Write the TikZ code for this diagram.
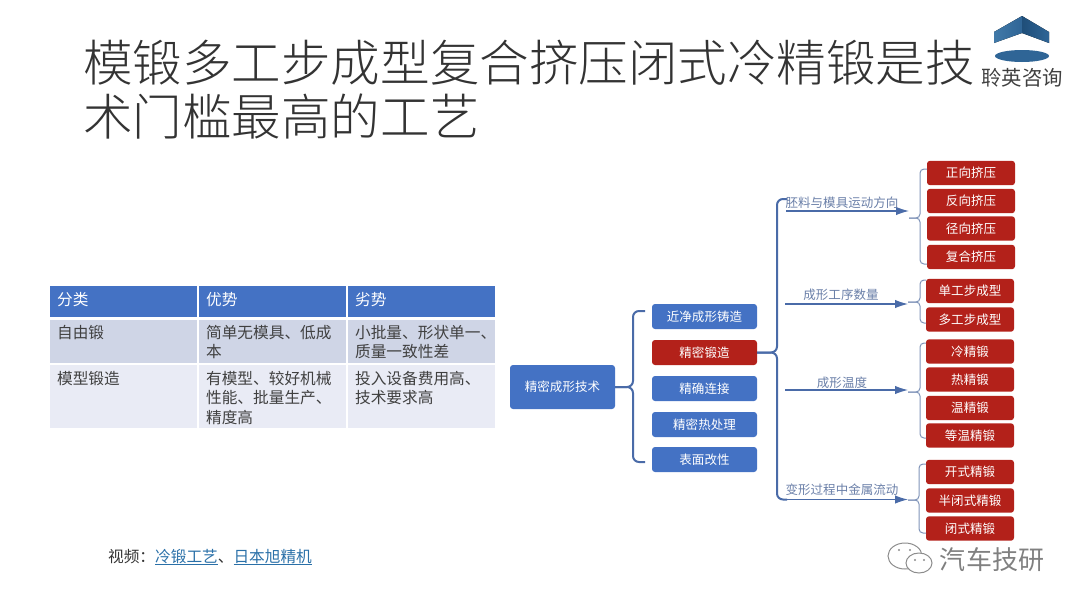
\documentclass[tikz,border=0pt]{standalone}
\usepackage{fontspec}
\setmainfont{Noto Sans CJK SC}
\newfontfamily\titlefont{Noto Sans CJK SC Light}
\usetikzlibrary{arrows.meta,shapes.geometric}
\definecolor{boxblue}{HTML}{4472C4}
\definecolor{boxred}{HTML}{B3211A}
\definecolor{linkblue}{HTML}{2A70A8}
\definecolor{labelblue}{HTML}{6A7FA8}
\definecolor{lineblue}{HTML}{4A6BA8}
\definecolor{thinblue}{HTML}{7F93B8}
\definecolor{rowdark}{HTML}{CFD5E6}
\definecolor{rowlight}{HTML}{E9EBF5}
\definecolor{logolight}{HTML}{4179A8}
\definecolor{logodark}{HTML}{1F4E79}
\definecolor{logomid}{HTML}{2F6596}
\tikzset{
    bluebox/.style={draw=none, fill=boxblue, text=white, rounded corners=0.15cm, minimum width=5.25cm, minimum height=1.25cm, inner sep=0pt, font=\fontsize{17.8}{20}\selectfont},
    redbox/.style={bluebox, fill=boxred, minimum width=4.4cm, minimum height=1.22cm},
    bigbrace/.style={draw=lineblue, line width=0.1cm, rounded corners=0.3cm},
    smallbrace/.style={draw=thinblue, line width=0.05cm, rounded corners=0.2cm},
    flowarrow/.style={draw=lineblue, line width=0.055cm, -{Latex[length=0.65cm,width=0.42cm]}},
    flowlabel/.style={text=labelblue, inner sep=0pt, font=\fontsize{17.8}{20}\selectfont},
    headcell/.style={fill=boxblue, anchor=north west, inner sep=0pt, minimum width=7.35cm, minimum height=1.55cm},
    darkcell/.style={headcell, fill=rowdark, minimum height=2.15cm},
    lightcell/.style={headcell, fill=rowlight, minimum height=3.15cm},
    celltext/.style={anchor=north west, inner sep=0pt, align=left, text=black!75, font=\fontsize{22.3}{27.7}\selectfont},
    headtext/.style={anchor=west, inner sep=0pt, text=white, font=\fontsize{22.3}{27.7}\selectfont},
}
\begin{document}
\begin{tikzpicture}[x=0.05cm, y=-0.05cm]
    \useasboundingbox (0,0) rectangle (1080,608);
    % title
    \node[anchor=north west, inner sep=0pt, align=left, text=black!80, font=\titlefont\fontsize{70.5}{76.8}\selectfont] (title) at (83,40) {模锻多工步成型复合挤压闭式冷精锻是技\\术门槛最高的工艺};
    % logo
    \fill[left color=logolight, right color=logomid] (994,32) -- (1022,16) -- (1022,33) -- (994,43) -- cycle;
    \fill[left color=logodark, right color=logomid] (1022,16) -- (1049,32) -- (1049,43) -- (1022,33) -- cycle;
    \node[ellipse, fill=logomid, minimum width=2.7cm, minimum height=0.6cm, inner sep=0pt] (logodisc) at (1022,56) {};
    \node[inner sep=0pt, text=black!75, font=\fontsize{29}{32}\selectfont] (logotext) at (1022,78) {聆英咨询};
    % table
    \node[headcell] (h1) at (50,286) {};
    \node[headcell] (h2) at (199,286) {};
    \node[headcell] (h3) at (348,286) {};
    \node[darkcell] (a1) at (50,320) {};
    \node[darkcell] (a2) at (199,320) {};
    \node[darkcell] (a3) at (348,320) {};
    \node[lightcell] (b1) at (50,365) {};
    \node[lightcell] (b2) at (199,365) {};
    \node[lightcell] (b3) at (348,365) {};
    \node[headtext] (h1t) at (57,300) {分类};
    \node[headtext] (h2t) at (206,300) {优势};
    \node[headtext] (h3t) at (355,300) {劣势};
    \node[celltext] (a1t) at (57,325) {自由锻};
    \node[celltext] (a2t) at (206,325) {简单无模具、低成\\本};
    \node[celltext] (a3t) at (355,325) {小批量、形状单一、\\质量一致性差};
    \node[celltext] (b1t) at (57,371) {模型锻造};
    \node[celltext] (b2t) at (206,371) {有模型、较好机械\\性能、批量生产、\\精度高};
    \node[celltext] (b3t) at (355,371) {投入设备费用高、\\技术要求高};
    % footer
    \node[anchor=west, inner sep=0pt, text=black!80, font=\fontsize{22.3}{26}\selectfont] (video) at (108,557) {视频^^^^ff1a\textcolor{linkblue}{\underline{冷锻工艺}}、\textcolor{linkblue}{\underline{日本旭精机}}};
    % first level
    \node[bluebox, minimum height=2.2cm] (root) at (562.5,387) {精密成形技术};
    \node[bluebox] (near) at (704.5,316.5) {近净成形铸造};
    \node[bluebox, fill=boxred] (forge) at (704.5,352.5) {精密锻造};
    \node[bluebox] (join) at (704.5,388.5) {精确连接};
    \node[bluebox] (heat) at (704.5,424.5) {精密热处理};
    \node[bluebox] (surf) at (704.5,459.5) {表面改性};
    \coordinate (rootspine) at (633,387);
    \coordinate (roottop) at (645,311);
    \coordinate (rootbot) at (645,462);
    \draw[bigbrace] (root.east) -- (rootspine) |- (roottop);
    \draw[bigbrace] (root.east) -- (rootspine) |- (rootbot);
    % second level
    \coordinate (forgespine) at (777,352.5);
    \coordinate (forgetop) at (787,199);
    \coordinate (forgebot) at (787,499.5);
    \draw[bigbrace] (forge.east) -- (forgespine) |- (forgetop);
    \draw[bigbrace] (forge.east) -- (forgespine) |- (forgebot);
    \coordinate (dirfrom) at (786,211);
    \coordinate (dirtip) at (909,211);
    \coordinate (numfrom) at (785,304);
    \coordinate (numtip) at (908,304);
    \coordinate (tempfrom) at (785,390);
    \coordinate (temptip) at (908,390);
    \coordinate (flowfrom) at (785,499.5);
    \coordinate (flowtip) at (908,499.5);
    \draw[flowarrow] (dirfrom) -- (dirtip);
    \draw[flowarrow] (numfrom) -- (numtip);
    \draw[flowarrow] (tempfrom) -- (temptip);
    \draw[flowarrow] (flowfrom) -- (flowtip);
    \node[flowlabel] (dirlabel) at (842,203) {胚料与模具运动方向};
    \node[flowlabel] (numlabel) at (841,295) {成形工序数量};
    \node[flowlabel] (templabel) at (842,383) {成形温度};
    \node[flowlabel] (metallabel) at (842,490) {变形过程中金属流动};
    % red boxes
    \node[redbox] (r1) at (971,173) {正向挤压};
    \node[redbox] (r2) at (971,201) {反向挤压};
    \node[redbox] (r3) at (971,228.5) {径向挤压};
    \node[redbox] (r4) at (971,257) {复合挤压};
    \node[redbox] (s1) at (970,291) {单工步成型};
    \node[redbox] (s2) at (970,319.5) {多工步成型};
    \node[redbox] (t1) at (970,351.5) {冷精锻};
    \node[redbox] (t2) at (970,379.5) {热精锻};
    \node[redbox] (t3) at (970,408) {温精锻};
    \node[redbox] (t4) at (970,435.5) {等温精锻};
    \node[redbox] (u1) at (970,472) {开式精锻};
    \node[redbox] (u2) at (970,500.5) {半闭式精锻};
    \node[redbox] (u3) at (970,528.5) {闭式精锻};
    % small braces
    \coordinate (dirspine) at (920,218);
    \coordinate (dirtop) at (927,169);
    \coordinate (dirbot) at (927,264);
    \coordinate (dirstart) at (909,218);
    \draw[smallbrace] (dirstart) -- (dirspine) |- (dirtop);
    \draw[smallbrace] (dirstart) -- (dirspine) |- (dirbot);
    \coordinate (numspine) at (920,302);
    \coordinate (numtop) at (926,280);
    \coordinate (numbot) at (926,323);
    \coordinate (numstart) at (908,302);
    \draw[smallbrace] (numstart) -- (numspine) |- (numtop);
    \draw[smallbrace] (numstart) -- (numspine) |- (numbot);
    \coordinate (tempspine) at (920,392);
    \coordinate (temptop) at (926,343);
    \coordinate (tempbot) at (926,438);
    \coordinate (tempstart) at (908,392);
    \draw[smallbrace] (tempstart) -- (tempspine) |- (temptop);
    \draw[smallbrace] (tempstart) -- (tempspine) |- (tempbot);
    \coordinate (metalspine) at (919,500);
    \coordinate (metaltop) at (926,464);
    \coordinate (metalbot) at (926,533);
    \coordinate (metalstart) at (908,500);
    \draw[smallbrace] (metalstart) -- (metalspine) |- (metaltop);
    \draw[smallbrace] (metalstart) -- (metalspine) |- (metalbot);
    % watermark
    \draw[draw=black!45, line width=0.05cm] (905,556) ellipse (17 and 13);
    \draw[draw=black!45, fill=white, line width=0.05cm] (919,563) ellipse (13 and 10);
    \fill[black!45] (899,550) circle (1.2) (910,550) circle (1.2) (915,560) circle (1.2) (924,560) circle (1.2);
    \node[inner sep=0pt, text=black!50, font=\fontsize{37}{40}\selectfont] (mark) at (992,560) {汽车技研};
\end{tikzpicture}
\end{document}
